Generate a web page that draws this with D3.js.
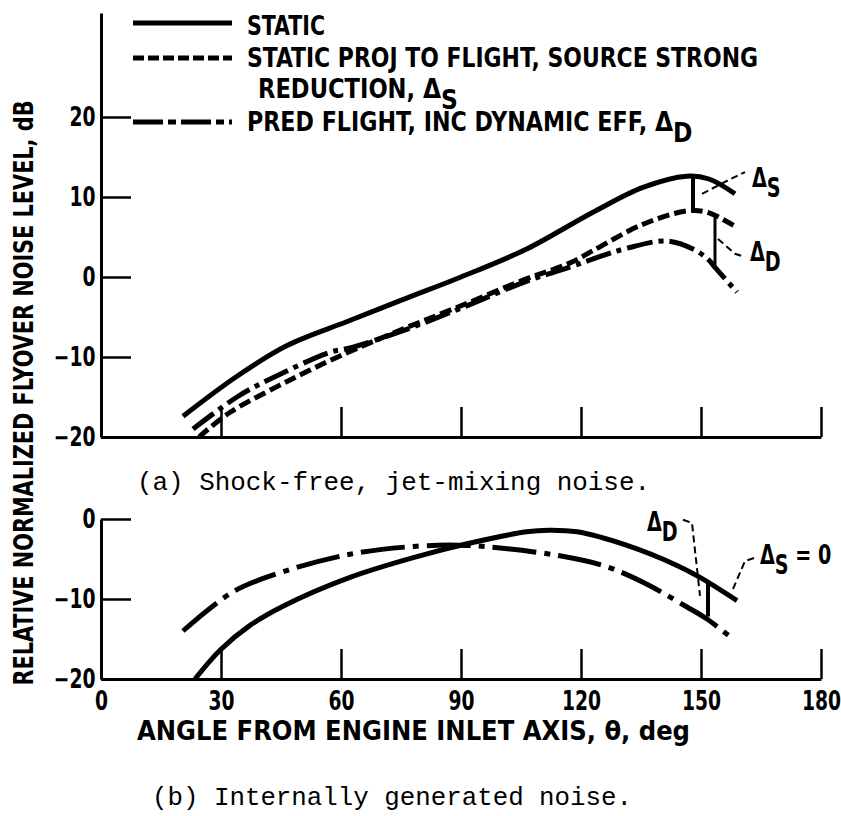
<!DOCTYPE html>
<html>
<head>
<meta charset="utf-8">
<script src="https://cdn.jsdelivr.net/npm/d3@7"></script>
<style>
body { margin: 0; background: #fff; }
svg { display: block; }
.lbl { font-family: "Liberation Sans Narrow", "DejaVu Sans Condensed", "Arial Narrow", sans-serif; font-weight: bold; font-size: 26px; fill: #000; }
.cap { font-family: "Liberation Mono", "DejaVu Sans Mono", monospace; font-size: 25px; fill: #000; }
</style>
</head>
<body>
<svg id="chart" width="841" height="816"></svg>
<script>
// x ticks (deg) and y ticks (dB)
var angleTicks = [0, 30, 60, 90, 120, 150, 180];
var yTicksA = [20, 10, 0, -10, -20];
var yTicksB = [0, -10, -20];

// (a) shock-free jet-mixing noise
var staticA_ang = [20.5, 34, 46.4, 61.4, 75.6, 90, 106.4, 123, 135.5, 146.4, 152, 158.5];
var staticA_db  = [-17.4, -12.4, -8.6, -5.6, -2.8, 0, 3.5, 8.1, 11.2, 12.6, 12.25, 10.4];

var projA_ang = [24.5, 32, 44, 52, 60, 75, 90, 106, 117, 123, 135.5, 146.4, 151.5, 159];
var projA_db  = [-20, -17, -13.7, -11.7, -9.8, -6.6, -3.6, -0.3, 1.7, 3.3, 6.6, 8.25, 8.1, 6.2];

var predA_ang = [23, 34, 42.3, 57.3, 62, 75, 90, 106, 117, 125, 131.5, 141.5, 148, 151.8, 153.5, 159];
var predA_db  = [-19, -15, -12.75, -9.4, -8.9, -6.8, -3.9, -0.6, 1.2, 2.6, 3.6, 4.5, 3.5, 2.2, 1.2, -1.9];

// (b) internally generated noise
var staticB_ang = [23.5, 29.75, 37.25, 45.5, 62.25, 79, 91.5, 106.4, 112, 119, 131.5, 144, 149.75, 159];
var staticB_db  = [-20, -16.4, -13.3, -10.9, -7.3, -4.7, -3.1, -1.6, -1.4, -1.6, -3.3, -5.8, -7.3, -10.2];

var predB_ang = [20.5, 33, 45.5, 62.25, 79, 91.5, 102.25, 114.75, 125.5, 135.5, 146.5, 151.5, 158];
var predB_db  = [-14, -9.1, -6.6, -4.4, -3.4, -3.3, -3.75, -4.6, -5.8, -7.9, -11, -12.5, -15];

var legendLabels = ["STATIC", "STATIC PROJ TO FLIGHT, SOURCE STRONG", "REDUCTION, ", "PRED FLIGHT, INC DYNAMIC EFF, "];

var svg = d3.select("#chart");

var x = d3.scaleLinear().domain([0, 180]).range([101, 821]);
var yA = d3.scaleLinear().domain([-20, 33]).range([437, 13]);
var yB = d3.scaleLinear().domain([-20, 0]).range([679, 519]);

function styleAxis(g) {
  g.select(".domain").attr("stroke", "#000").attr("stroke-width", 3);
  g.selectAll(".tick line").attr("stroke", "#000").attr("stroke-width", 2.5);
  g.selectAll(".tick text").attr("class", "lbl").attr("transform", "scale(0.8,1)");
}

// panel (a) axes
svg.append("g").attr("transform", "translate(101,0)")
  .call(d3.axisLeft(yA).tickValues(yTicksA).tickSize(-30).tickSizeOuter(0).tickPadding(7))
  .call(styleAxis);
svg.append("g").attr("transform", "translate(0,437)")
  .call(d3.axisBottom(x).tickValues(angleTicks.slice(1)).tickSize(-30).tickSizeOuter(0).tickFormat(""))
  .call(styleAxis);

// panel (b) axes
svg.append("g").attr("transform", "translate(101,0)")
  .call(d3.axisLeft(yB).tickValues(yTicksB).tickSize(-30).tickSizeOuter(0).tickPadding(7))
  .call(styleAxis);
svg.append("g").attr("transform", "translate(0,679)")
  .call(d3.axisBottom(x).tickValues(angleTicks).tickSize(-30).tickSizeOuter(0).tickPadding(13))
  .call(styleAxis);

function drawCurve(ys, ang, db, dash) {
  var line = d3.line()
    .x(function(d) { return x(d[0]); })
    .y(function(d) { return ys(d[1]); })
    .curve(d3.curveCatmullRom.alpha(0.5));
  svg.append("path")
    .datum(d3.zip(ang, db))
    .attr("d", line)
    .attr("fill", "none")
    .attr("stroke", "#000")
    .attr("stroke-width", 5)
    .attr("stroke-dasharray", dash);
}

drawCurve(yA, staticA_ang, staticA_db, null);
drawCurve(yA, projA_ang, projA_db, "12,5");
drawCurve(yA, predA_ang, predA_db, "26,6,5,6");
drawCurve(yB, staticB_ang, staticB_db, null);
drawCurve(yB, predB_ang, predB_db, "44,8,6,8");

// delta markers
function vbar(ys, ang, top, bot, w) {
  svg.append("line")
    .attr("x1", x(ang)).attr("x2", x(ang))
    .attr("y1", ys(top)).attr("y2", ys(bot))
    .attr("stroke", "#000").attr("stroke-width", w);
}
vbar(yA, 148, 12.5, 8.2, 4);
vbar(yA, 153.5, 7.8, 1.4, 3);
vbar(yB, 151.75, -7.75, -12.2, 4);

function leader(ys, pts) {
  svg.append("path")
    .datum(pts)
    .attr("d", d3.line().x(function(d) { return x(d[0]); }).y(function(d) { return ys(d[1]); }))
    .attr("fill", "none").attr("stroke", "#000").attr("stroke-width", 2)
    .attr("stroke-dasharray", "7,4");
}
leader(yA, [[150.25, 10.4], [158, 12.4], [161, 13.1]]);
leader(yA, [[154.25, 4.75], [158.5, 2.9], [161, 2.5]]);
leader(yB, [[145.5, -0.1], [147.75, -0.5], [149.75, -9.6]]);
leader(yB, [[158, -8.75], [161, -5.25], [164, -4.75]]);

function deltaLabel(px, py, sub, rest) {
  var t = svg.append("g").attr("transform", "translate(" + px + "," + py + ") scale(0.82,1)")
    .append("text").attr("class", "lbl");
  t.append("tspan").text("\u0394");
  t.append("tspan").attr("dy", 10).text(sub);
  if (rest) t.append("tspan").attr("dy", -10).text(rest);
}
deltaLabel(x(162.75), yA(11.3), "S");
deltaLabel(x(162.25), yA(2), "D");
deltaLabel(x(136.5), yB(-1.5), "D");
deltaLabel(x(164.75), yB(-5.6), "S", " = 0");

// legend
var legend = svg.append("g");
[["", 23], ["11,4", 58], ["30,5,8,5", 122]].forEach(function(l) {
  legend.append("line")
    .attr("x1", 133).attr("x2", 232).attr("y1", l[1]).attr("y2", l[1])
    .attr("stroke", "#000").attr("stroke-width", 5)
    .attr("stroke-dasharray", l[0] || null);
});
legend.append("text").attr("class", "lbl").attr("x", 247).attr("y", 35)
  .attr("textLength", 78).attr("lengthAdjust", "spacingAndGlyphs").text(legendLabels[0]);
legend.append("text").attr("class", "lbl").attr("x", 247).attr("y", 67)
  .attr("textLength", 511).attr("lengthAdjust", "spacingAndGlyphs").text(legendLabels[1]);
var r = legend.append("text").attr("class", "lbl").attr("x", 258).attr("y", 98);
r.append("tspan").attr("textLength", 165).attr("lengthAdjust", "spacingAndGlyphs").text(legendLabels[2]);
r.append("tspan").text("\u0394");
r.append("tspan").attr("dy", 11).text("S");
var p = legend.append("text").attr("class", "lbl").attr("x", 247).attr("y", 131);
p.append("tspan").attr("textLength", 408).attr("lengthAdjust", "spacingAndGlyphs").text(legendLabels[3]);
p.append("tspan").text("\u0394");
p.append("tspan").attr("dy", 11).text("D");

// axis titles
svg.append("text").attr("class", "lbl")
  .attr("transform", "translate(33,393) rotate(-90)")
  .attr("text-anchor", "middle")
  .attr("textLength", 585).attr("lengthAdjust", "spacingAndGlyphs")
  .text("RELATIVE NORMALIZED FLYOVER NOISE LEVEL, dB");
svg.append("text").attr("class", "lbl")
  .attr("x", 137).attr("y", 740)
  .attr("textLength", 553).attr("lengthAdjust", "spacingAndGlyphs")
  .text("ANGLE FROM ENGINE INLET AXIS, \u03b8, deg");

// captions
svg.append("text").attr("class", "cap").attr("x", 137).attr("y", 490)
  .attr("textLength", 513).attr("lengthAdjust", "spacingAndGlyphs")
  .text("(a) Shock-free, jet-mixing noise.");
svg.append("text").attr("class", "cap").attr("x", 152).attr("y", 805)
  .attr("textLength", 480).attr("lengthAdjust", "spacingAndGlyphs")
  .text("(b) Internally generated noise.");
</script>
</body>
</html>
